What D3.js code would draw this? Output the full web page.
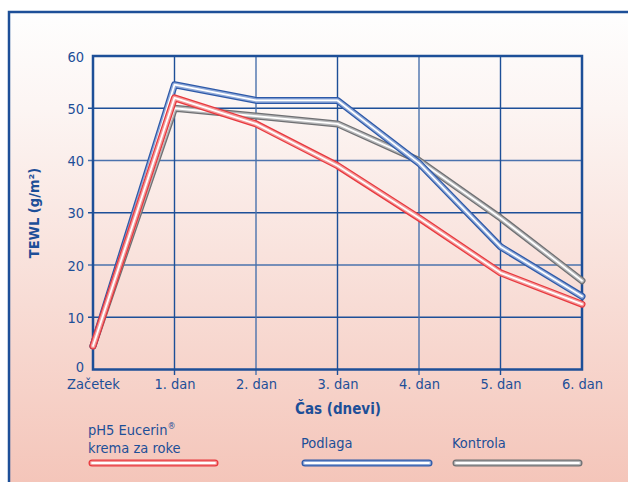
<!DOCTYPE html>
<html><head><meta charset="utf-8">
<script src="https://cdn.jsdelivr.net/npm/d3@7"></script>
<style>body{margin:0;background:#fff;} svg{display:block;}</style>
</head><body>
<script>
const categories = ["Začetek","1. dan","2. dan","3. dan","4. dan","5. dan","6. dan"];
const eucerin = [4.5, 52, 47, 39, 29, 18.5, 12.5];
const podlaga = [4.5, 54.5, 51.5, 51.5, 39.5, 23.5, 14];
const kontrola = [4.5, 50, 48.5, 47, 40, 29, 17];
const yTicks = [0,10,20,30,40,50,60];
const seriesNames = ["pH5 Eucerin®", "Podlaga", "Kontrola"];

const W=628,H=482;
const blue="#1d4f98";
const font="'DejaVu Sans Condensed','DejaVu Sans',sans-serif";
const svg=d3.select("body").append("svg").attr("width",W).attr("height",H);
const defs=svg.append("defs");
const g=defs.append("linearGradient").attr("id","bg").attr("x1",0).attr("y1",0).attr("x2",0).attr("y2",1);
g.append("stop").attr("offset","0").attr("stop-color","#fefefe");
g.append("stop").attr("offset","0.2").attr("stop-color","#fcf5f3");
g.append("stop").attr("offset","1").attr("stop-color","#f4c4b8");
svg.append("rect").attr("x",9).attr("y",12).attr("width",W).attr("height",H).attr("fill","url(#bg)").attr("stroke",blue).attr("stroke-width",2.5);

const x=d3.scalePoint().domain(categories).range([93,582]);
const y=d3.scaleLinear().domain([0,60]).range([369.5,56]);

// grid
const grid=svg.append("g");
yTicks.forEach((t,i)=>{ if(t>0&&t<60) grid.append("line").attr("x1",88).attr("x2",582).attr("y1",y(t)).attr("y2",y(t)).attr("stroke",i%2? blue:"#4a72ad").attr("stroke-width",1.4);});
categories.forEach((c,i)=>{ if(i>0&&i<6) grid.append("line").attr("x1",x(c)).attr("x2",x(c)).attr("y1",56).attr("y2",375).attr("stroke",i%2? blue:"#4a72ad").attr("stroke-width",1.4);});
svg.append("rect").attr("x",93).attr("y",56).attr("width",489).attr("height",313.5).attr("fill","none").attr("stroke",blue).attr("stroke-width",2.5);

// axes
const ya=svg.append("g").attr("transform","translate(93,0)").call(d3.axisLeft(y).tickValues(yTicks).tickSize(0).tickPadding(9));
ya.select(".domain").remove();
ya.selectAll("text").attr("font-family",font).attr("font-size",14.5).attr("fill",blue).attr("dy","0.35em");
ya.selectAll(".tick").filter(d=>d===0).select("text").attr("dy","0.15em");
const xa=svg.append("g").attr("transform","translate(0,369.5)").call(d3.axisBottom(x).tickSize(0).tickPadding(9));
xa.select(".domain").remove();
xa.selectAll("text").attr("font-family",font).attr("font-size",14.5).attr("fill",blue);

svg.append("text").attr("x",338).attr("y",414).attr("text-anchor","middle").attr("font-family",font).attr("font-weight","bold").attr("font-size",15).attr("fill",blue).text("Čas (dnevi)");
svg.append("text").attr("transform","translate(39,213) rotate(-90)").attr("text-anchor","middle").attr("font-family",font).attr("font-weight","bold").attr("font-size",14.5).attr("fill",blue).text("TEWL (g/m²)");

// tube lines
const line=d3.line().x((d,i)=>x(categories[i])).y(d=>y(d));
function tube(data,dark,mid){
  const p=line(data);
  svg.append("path").attr("d",p).attr("fill","none").attr("stroke",dark).attr("stroke-width",7).attr("stroke-linejoin","round").attr("stroke-linecap","round");
  svg.append("path").attr("d",p).attr("fill","none").attr("stroke",mid).attr("stroke-width",4.5).attr("stroke-linejoin","round").attr("stroke-linecap","round");
  svg.append("path").attr("d",p).attr("fill","none").attr("stroke","#ffffff").attr("stroke-width",1.8).attr("stroke-linejoin","round").attr("stroke-linecap","round");
}
const colors=[["#e8383e","#f39a9a"],["#2d59a8","#8ea8d8"],["#6f7073","#b5b6b8"]];
tube(kontrola,colors[2][0],colors[2][1]);
tube(podlaga,colors[1][0],colors[1][1]);
tube(eucerin,colors[0][0],colors[0][1]);

// legend
function legBar(x0,x1,c){
  const yy=463;
  svg.append("line").attr("x1",x0).attr("x2",x1).attr("y1",yy).attr("y2",yy).attr("stroke",c[0]).attr("stroke-width",7).attr("stroke-linecap","round");
  svg.append("line").attr("x1",x0).attr("x2",x1).attr("y1",yy).attr("y2",yy).attr("stroke",c[1]).attr("stroke-width",4.5).attr("stroke-linecap","round");
  svg.append("line").attr("x1",x0).attr("x2",x1).attr("y1",yy).attr("y2",yy).attr("stroke","#fff").attr("stroke-width",1.8).attr("stroke-linecap","round");
}
const lt=svg.append("text").attr("x",88).attr("y",435).attr("font-family",font).attr("font-size",14.5).attr("fill",blue);
lt.append("tspan").text("pH5 Eucerin");
lt.append("tspan").attr("font-size",9).attr("dy",-6).text("®");
svg.append("text").attr("x",88).attr("y",453).attr("font-family",font).attr("font-size",14.5).attr("fill",blue).text("krema za roke");
svg.append("text").attr("x",301).attr("y",448).attr("font-family",font).attr("font-size",14.5).attr("fill",blue).text(seriesNames[1]);
svg.append("text").attr("x",452).attr("y",448).attr("font-family",font).attr("font-size",14.5).attr("fill",blue).text(seriesNames[2]);
legBar(92,215,colors[0]);
legBar(305,429,colors[1]);
legBar(456,579,colors[2]);
</script>
</body></html>
